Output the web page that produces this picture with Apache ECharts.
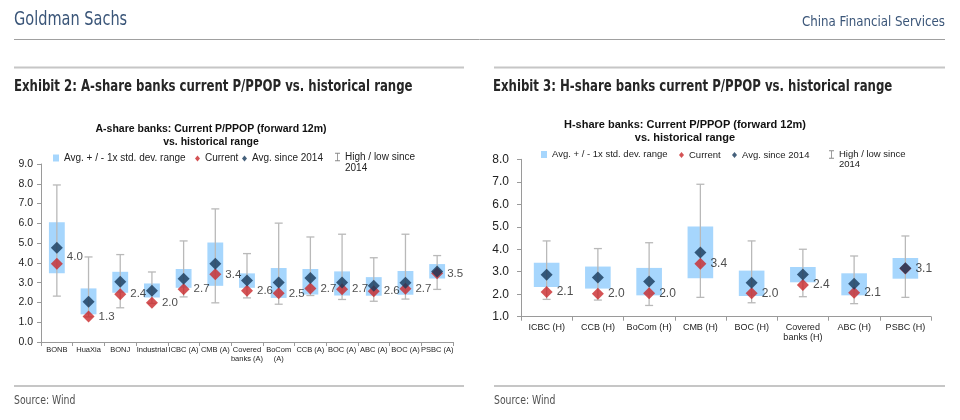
<!DOCTYPE html>
<html><head><meta charset="utf-8">
<script src="https://cdn.jsdelivr.net/npm/echarts@6/dist/echarts.min.js"></script>
<style>html,body{margin:0;padding:0;background:#fff}#c{width:960px;height:420px}</style>
</head><body><div id="c"></div>
<script>
// ---------- DATA ----------
const aCategories = ['BONB','HuaXia','BONJ','Industrial','ICBC (A)','CMB (A)','Covered\nbanks (A)','BoCom\n(A)','CCB (A)','BOC (A)','ABC (A)','BOC (A)','PSBC (A)'];
const aBoxLow  = [3.47,1.40,2.49,2.25,2.74,2.84,2.74,2.23,2.40,2.35,2.34,2.39,3.21];
const aBoxHigh = [6.06,2.71,3.55,2.96,3.69,5.03,3.47,3.74,3.69,3.57,3.28,3.59,3.94];
const aAvg     = [4.77,2.03,3.05,2.59,3.20,3.96,3.11,3.01,3.23,3.01,2.84,3.00,3.57];
const aCurrent = [3.96,1.29,2.42,1.98,2.67,3.42,2.59,2.46,2.71,2.67,2.57,2.69,3.47];
const aHigh    = [7.94,4.30,4.42,3.54,5.11,6.73,4.47,6.01,5.31,5.45,4.26,5.45,4.37];
const aLow     = [2.32,1.27,1.73,1.95,2.28,1.98,2.23,1.91,2.35,2.15,2.06,2.17,2.66];

const hCategories = ['ICBC (H)','CCB (H)','BoCom (H)','CMB (H)','BOC (H)','Covered\nbanks (H)','ABC (H)','PSBC (H)'];
const hBoxLow  = [2.32,2.25,1.95,2.71,1.92,2.53,1.95,2.69];
const hBoxHigh = [3.40,3.23,3.17,5.01,3.05,3.21,2.93,3.61];
const hAvg     = [2.87,2.74,2.56,3.86,2.51,2.88,2.47,3.15];
const hCurrent = [2.10,2.02,2.04,3.36,2.04,2.41,2.06,3.14];
const hHigh    = [4.37,4.03,4.29,6.89,4.37,4.00,3.70,4.59];
const hLow     = [1.77,1.74,1.50,1.86,1.62,1.89,1.58,1.86];

const aTicks = { min: 0, max: 9, interval: 1 };
const hTicks = { min: 1, max: 8, interval: 1 };

const NAME_BOX = 'Avg. + / - 1x std. dev. range';
const NAME_CUR = 'Current';
const NAME_AVG = 'Avg. since 2014';
const NAME_HL  = 'High / low since 2014';

// ---------- STYLE ----------
const BOX_C = '#a6d6fd', AVG_C = '#17385a', CUR_C = '#c9282b', WH_C = '#b9b9b9', AX_C = '#9a9a9a';
const FONT = '"Liberation Sans", Arial, sans-serif';
const NARROW = '"Liberation Sans Narrow", "DejaVu Sans Condensed", sans-serif';

function boxRender(params, api) {
  const x = api.value(0);
  const p1 = api.coord([x, api.value(2)]), p2 = api.coord([x, api.value(1)]);
  const w = api.size([1, 0])[0] * 0.5;
  return { type: 'rect', shape: { x: p1[0] - w / 2, y: p1[1], width: w, height: p2[1] - p1[1] }, style: { fill: BOX_C } };
}
function whiskerRender(params, api) {
  const x = api.value(0);
  const t = api.coord([x, api.value(2)]), b = api.coord([x, api.value(1)]);
  const c = 4, st = { stroke: WH_C, lineWidth: 1.3 };
  return { type: 'group', children: [
    { type: 'line', shape: { x1: t[0], y1: t[1], x2: b[0], y2: b[1] }, style: st },
    { type: 'line', shape: { x1: t[0] - c, y1: t[1], x2: t[0] + c, y2: t[1] }, style: st },
    { type: 'line', shape: { x1: b[0] - c, y1: b[1], x2: b[0] + c, y2: b[1] }, style: st }
  ]};
}

function buildSeries(idx, lows, highs, avg, cur, hiArr, loArr, labelSize, firstLabelOffset) {
  const n = lows.length;
  const box = [], wh = [], a = [], c = [];
  for (let i = 0; i < n; i++) {
    box.push([i, lows[i], highs[i]]);
    wh.push([i, loArr[i], hiArr[i]]);
    a.push([i, avg[i]]);
    const item = { value: [i, cur[i]] };
    if (firstLabelOffset && i === 0) item.label = { offset: firstLabelOffset };
    c.push(item);
  }
  return [
    { name: NAME_BOX, type: 'custom', xAxisIndex: idx, yAxisIndex: idx, renderItem: boxRender, data: box,
      encode: { x: 0, y: [1, 2] }, itemStyle: { color: BOX_C }, z: 2, silent: true },
    { name: NAME_HL, type: 'custom', xAxisIndex: idx, yAxisIndex: idx, renderItem: whiskerRender, data: wh,
      encode: { x: 0, y: [1, 2] }, itemStyle: { color: '#8a8a8a' }, z: 3, silent: true },
    { name: NAME_CUR, type: 'scatter', xAxisIndex: idx, yAxisIndex: idx, data: c, symbol: 'diamond', symbolSize: 12,
      itemStyle: { color: CUR_C }, z: 4,
      label: { show: true, position: 'right', distance: 4, fontSize: labelSize, fontFamily: FONT, color: '#222',
        formatter: p => p.value[1].toFixed(1) } },
    { name: NAME_AVG, type: 'scatter', xAxisIndex: idx, yAxisIndex: idx, data: a, symbol: 'diamond', symbolSize: 12,
      itemStyle: { color: AVG_C }, z: 5 }
  ];
}

function legendItem(name, left, top, icon, w, h, fs, lh) {
  return { show: true, data: [{ name: name, icon: icon }], left: left, top: top, padding: 0,
    itemWidth: w, itemHeight: h, selectedMode: false,
    // leading empty line keeps the first text line level with the icon
    formatter: n => n === NAME_HL ? '\nHigh / low since\n2014' : n,
    textStyle: Object.assign({ fontSize: fs, fontFamily: FONT, color: '#222' }, lh ? { lineHeight: lh } : {}) };
}
const IBAR = 'path://M0,0H6V1H3.5V9H6V10H0V9H2.5V1H0Z';

function axes() {
  const xa = (gi, cats, fs, lh, margin) => ({
    type: 'category', gridIndex: gi, data: cats, boundaryGap: true,
    axisLine: { lineStyle: { color: AX_C } },
    axisTick: { show: true, alignWithLabel: false, length: 4, lineStyle: { color: AX_C } },
    axisLabel: { interval: 0, fontSize: fs, lineHeight: lh, margin: margin, fontFamily: FONT, color: '#222' }
  });
  const ya = (gi, t, fs, margin) => ({
    type: 'value', gridIndex: gi, min: t.min, max: t.max, interval: t.interval,
    axisLine: { show: true, lineStyle: { color: AX_C } },
    axisTick: { show: true, length: 4, lineStyle: { color: AX_C } },
    splitLine: { show: false },
    axisLabel: { fontSize: fs, margin: margin, fontFamily: FONT, color: '#222', formatter: v => v.toFixed(1) }
  });
  return {
    xAxis: [xa(0, aCategories, 7.5, 8.5, 4), xa(1, hCategories, 9, 10, 6)],
    yAxis: [ya(0, aTicks, 10.5, 8), ya(1, hTicks, 12, 12)]
  };
}

const txt = (x, y, text, font, fill, align, sx) => ({ type: 'text', x: x, y: y, silent: true, scaleX: sx || 1,
  style: { text: text, font: font, fill: fill, align: align || 'left', verticalAlign: 'middle' } });
const hline = (x1, x2, y, color, w) => ({ type: 'line', silent: true, shape: { x1: x1, y1: y, x2: x2, y2: y }, style: { stroke: color, lineWidth: w } });

const ax = axes();
const option = {
  animation: false,
  grid: [
    { left: 41, right: 507, top: 164, bottom: 78, containLabel: false },
    { left: 521, right: 29, top: 159.3, bottom: 103.3, containLabel: false }
  ],
  xAxis: ax.xAxis,
  yAxis: ax.yAxis,
  legend: [
    legendItem(NAME_BOX, 53, 153, 'rect', 6, 7, 10),
    legendItem(NAME_CUR, 195, 153.5, 'diamond', 5, 6, 10),
    legendItem(NAME_AVG, 242, 153.5, 'diamond', 5, 6, 10),
    legendItem(NAME_HL, 335, 140.5, IBAR, 5, 10, 10, 11),
    legendItem(NAME_BOX, 541, 149.5, 'rect', 6, 7, 9.5),
    legendItem(NAME_CUR, 679, 150, 'diamond', 5, 6, 9.5),
    legendItem(NAME_AVG, 732, 150, 'diamond', 5, 6, 9.5),
    legendItem(NAME_HL, 829, 139.5, IBAR, 5, 10, 9.5, 10)
  ],
  series: [].concat(
    buildSeries(0, aBoxLow, aBoxHigh, aAvg, aCurrent, aHigh, aLow, 11.5, [0, -7]),
    buildSeries(1, hBoxLow, hBoxHigh, hAvg, hCurrent, hHigh, hLow, 12, null)
  ),
  graphic: [
    txt(14, 20, 'Goldman Sachs', '19px ' + NARROW, '#3a5578', 'left', 0.85),
    txt(945, 22, 'China Financial Services', '14px ' + NARROW, '#3a5578', 'right', 0.94),
    hline(14, 945, 39.5, '#a0a0a0', 1),
    hline(14, 464, 67.5, '#c6c6c6', 2),
    hline(494, 945, 67.5, '#c6c6c6', 2),
    txt(14, 86.5, 'Exhibit 2: A-share banks current P/PPOP vs. historical range', 'bold 16px ' + NARROW, '#262626', 'left', 0.815),
    txt(493, 86.5, 'Exhibit 3: H-share banks current P/PPOP vs. historical range', 'bold 16px ' + NARROW, '#262626', 'left', 0.815),
    txt(211, 129, 'A-share banks: Current P/PPOP (forward 12m)', 'bold 10.5px ' + FONT, '#111', 'center'),
    txt(211, 142, 'vs. historical range', 'bold 10.5px ' + FONT, '#111', 'center'),
    txt(685, 125, 'H-share banks: Current P/PPOP (forward 12m)', 'bold 11px ' + FONT, '#111', 'center'),
    txt(685, 138, 'vs. historical range', 'bold 11px ' + FONT, '#111', 'center'),
    hline(14, 464, 386, '#c6c6c6', 2),
    hline(494, 945, 386, '#c6c6c6', 2),
    txt(14, 401, 'Source: Wind', '11.5px ' + NARROW, '#505050', 'left', 0.9),
    txt(494, 401, 'Source: Wind', '11.5px ' + NARROW, '#505050', 'left', 0.9)
  ]
};
const chart = echarts.init(document.getElementById('c'), null, { renderer: 'canvas' });
chart.setOption(option);
</script></body></html>
